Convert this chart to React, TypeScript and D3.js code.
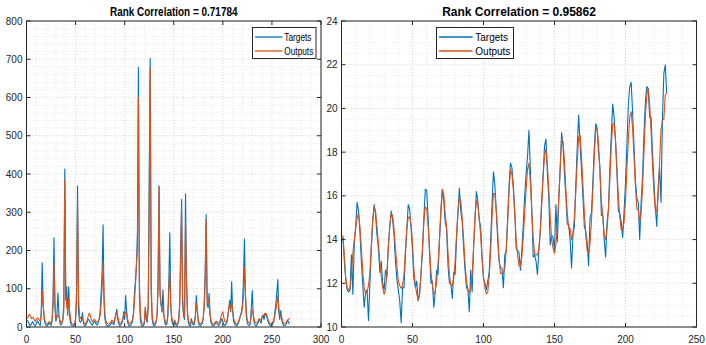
import React from "react";
import * as d3 from "d3";

const leftTargets = [
  18, 12, 6, 4, 8, 14, 10, 5, 3, 9,
  16, 12, 7, 4, 40, 168, 60, 20, 8, 4,
  3, 6, 12, 8, 4, 15, 70, 233, 50, 15,
  30, 89, 35, 10, 5, 8, 20, 60, 413, 70,
  105, 30, 106, 25, 8, 4, 3, 2, 6, 20,
  90, 369, 40, 15, 12, 18, 37, 10, 4, 3,
  8, 14, 20, 18, 12, 8, 5, 10, 15, 12,
  8, 5, 10, 20, 40, 90, 140, 267, 60, 20,
  8, 4, 2, 3, 5, 8, 12, 10, 6, 20,
  30, 46, 20, 8, 3, 5, 10, 15, 40, 20,
  82, 40, 12, 5, 3, 4, 8, 15, 40, 90,
  120, 160, 250, 679, 80, 20, 5, 2, 3, 8,
  48, 20, 12, 60, 400, 702, 90, 20, 6, 3,
  5, 12, 30, 120, 369, 85, 60, 40, 97, 30,
  10, 5, 8, 30, 120, 246, 50, 15, 8, 5,
  18, 6, 3, 6, 15, 60, 200, 334, 60, 30,
  20, 348, 120, 30, 10, 4, 3, 22, 10, 5,
  8, 30, 82, 40, 12, 5, 3, 6, 10, 20,
  60, 140, 294, 60, 50, 88, 30, 10, 5, 3,
  4, 8, 12, 10, 6, 4, 8, 15, 22, 15,
  8, 4, 6, 10, 25, 50, 70, 40, 118, 40,
  15, 8, 5, 3, 6, 10, 20, 30, 40, 60,
  120, 230, 80, 25, 10, 5, 4, 8, 50, 95,
  30, 10, 5, 3, 6, 12, 20, 15, 10, 25,
  30, 20, 36, 30, 25, 15, 8, 4, 3, 6,
  10, 15, 40, 60, 90, 124, 40, 20, 43, 20,
  8, 4, 3, 5, 10, 18, 12, 8,
];

const leftOutputs = [
  22, 30, 33, 28, 22, 25, 24, 18, 15, 20,
  24, 22, 18, 15, 30, 96, 55, 28, 15, 10,
  8, 10, 14, 12, 10, 18, 50, 166, 60, 22,
  25, 30, 28, 18, 12, 12, 18, 40, 385, 90,
  53, 40, 75, 40, 18, 10, 8, 6, 10, 22,
  60, 332, 80, 30, 22, 25, 20, 15, 10, 8,
  12, 20, 30, 36, 30, 20, 14, 16, 20, 18,
  14, 12, 15, 20, 30, 60, 100, 168, 80, 30,
  15, 10, 8, 8, 10, 14, 18, 15, 12, 22,
  36, 40, 28, 15, 10, 10, 14, 20, 35, 30,
  40, 38, 20, 12, 8, 10, 14, 20, 35, 70,
  110, 166, 200, 600, 120, 40, 15, 8, 8, 12,
  53, 30, 20, 50, 300, 678, 120, 35, 12, 8,
  10, 15, 30, 100, 366, 100, 60, 45, 40, 30,
  18, 10, 12, 30, 90, 145, 60, 25, 15, 12,
  14, 10, 8, 10, 18, 50, 160, 314, 80, 35,
  25, 276, 120, 40, 18, 10, 8, 15, 14, 10,
  12, 25, 62, 45, 20, 10, 8, 10, 15, 22,
  50, 120, 281, 80, 60, 75, 35, 18, 10, 8,
  8, 12, 15, 14, 12, 10, 14, 25, 35, 40,
  25, 15, 12, 15, 28, 45, 62, 45, 66, 45,
  22, 14, 10, 8, 10, 15, 22, 30, 35, 50,
  80, 156, 90, 35, 18, 12, 10, 12, 30, 44,
  35, 18, 12, 10, 12, 16, 22, 20, 18, 28,
  32, 30, 36, 35, 30, 20, 14, 10, 8, 10,
  14, 18, 30, 45, 60, 82, 50, 30, 35, 25,
  15, 10, 8, 10, 14, 18, 20, 23,
];

const rightTargets = [
  14.1, 13.0, 12.2, 11.7, 11.6, 11.7, 13.3, 11.5, 13.8, 14.6, 15.7, 15.3,
  14.3, 13.0, 11.9, 10.9, 11.6, 11.7, 10.3, 12.0, 13.6, 14.9, 15.6, 15.1,
  14.2, 13.6, 12.5, 13.0, 12.0, 11.7, 12.6, 12.3, 13.8, 14.6, 15.3, 14.9,
  14.2, 13.0, 12.2, 11.7, 11.2, 10.2, 11.8, 11.8, 13.3, 14.5, 15.6, 15.4,
  14.5, 13.5, 12.2, 11.8, 12.1, 11.2, 11.5, 12.5, 13.4, 15.0, 16.3, 16.25,
  15.0, 13.4, 12.0, 12.1, 10.9, 11.6, 12.6, 12.4, 14.0, 15.2, 16.3, 15.8,
  14.8, 14.5, 12.8, 12.0, 12.0, 11.3, 12.5, 12.4, 14.0, 15.2, 16.35, 15.3,
  14.8, 13.6, 12.6, 11.8, 11.7, 10.7, 12.6, 11.6, 13.6, 15.0, 16.2, 15.8,
  14.9, 14.6, 13.2, 12.2, 12.0, 11.7, 12.1, 12.5, 13.9, 15.6, 17.1, 16.5,
  15.3, 14.0, 13.0, 12.7, 12.7, 11.8, 13.3, 13.5, 15.0, 16.5, 17.5, 17.3,
  16.5, 15.3, 13.6, 13.5, 13.4, 12.6, 13.5, 14.7, 16.0, 17.0, 17.8, 19.0,
  17.2, 15.4, 13.2, 13.3, 13.0, 12.4, 13.5, 14.4, 15.8, 17.0, 18.3, 18.6,
  17.0, 15.9, 13.75, 14.2, 14.1, 13.5, 15.6, 13.9, 15.8, 17.2, 18.9, 18.3,
  17.0, 16.0, 14.7, 14.7, 14.0, 12.7, 14.2, 14.6, 16.5, 18.2, 19.7, 18.4,
  17.2, 16.0, 14.6, 14.4, 13.9, 12.8, 15.0, 15.2, 16.6, 18.2, 19.3, 19.1,
  18.0, 17.3, 15.1, 15.1, 14.0, 13.2, 14.8, 15.4, 17.3, 18.8, 20.2, 19.6,
  18.5, 17.0, 15.3, 15.2, 14.8, 14.1, 15.3, 16.6, 18.3, 20.2, 21.0, 21.2,
  19.8, 18.3, 16.7, 15.9, 15.7, 14.0, 15.7, 16.9, 18.8, 20.3, 21.0, 20.9,
  19.6, 19.6, 18.0, 16.7, 15.5, 14.6, 16.4, 17.3, 15.7, 19.5, 21.6, 22.0,
  20.7,
];

const rightOutputs = [
  14.2, 13.3, 12.2, 11.8, 11.7, 11.75, 12.4, 13.4, 14.0, 14.5, 15.0, 15.2,
  14.6, 13.6, 12.5, 11.8, 11.5, 11.6, 11.9, 12.5, 13.7, 14.9, 15.5, 15.3,
  14.6, 13.8, 13.0, 12.3, 11.8, 11.5, 11.7, 12.5, 13.6, 14.6, 15.2, 15.1,
  14.5, 13.6, 12.8, 12.1, 11.9, 11.77, 11.9, 12.4, 13.5, 14.5, 15.0, 15.05,
  14.7, 13.8, 12.6, 11.9, 11.5, 11.23, 11.5, 12.4, 13.6, 14.8, 15.5, 15.4,
  14.6, 13.6, 12.5, 11.9, 11.5, 11.6, 12.1, 12.9, 14.0, 15.4, 16.3, 16.1,
  15.2, 14.6, 13.4, 12.4, 11.92, 11.9, 12.2, 13.0, 14.2, 15.3, 15.9, 15.8,
  15.0, 14.0, 12.9, 12.1, 11.7, 11.55, 11.8, 12.4, 13.6, 15.0, 15.8, 15.6,
  14.9, 14.2, 13.1, 12.3, 11.8, 11.5, 11.6, 12.3, 13.4, 15.0, 16.1, 16.1,
  15.3, 14.3, 13.1, 12.45, 12.45, 12.45, 12.7, 13.5, 14.8, 16.2, 17.2, 17.0,
  16.3, 15.2, 14.0, 13.3, 12.8, 12.76, 13.2, 14.1, 15.2, 16.3, 17.2, 17.5,
  16.6, 15.3, 14.1, 13.37, 13.3, 13.3, 13.6, 14.4, 15.6, 16.9, 17.8, 18.17,
  17.4, 16.3, 15.0, 14.0, 13.6, 13.37, 13.8, 14.6, 15.9, 17.3, 18.6, 18.5,
  17.6, 16.3, 15.2, 14.5, 14.5, 14.0, 14.3, 15.0, 16.2, 17.6, 18.7, 18.78,
  17.8, 16.5, 15.3, 14.2, 13.5, 13.37, 13.8, 14.8, 16.2, 17.8, 19.0, 19.1,
  18.4, 17.1, 15.8, 15.1, 14.2, 14.0, 14.5, 15.4, 16.8, 18.3, 19.3, 19.3,
  18.5, 17.2, 15.9, 15.0, 14.44, 14.44, 14.8, 15.8, 17.2, 18.6, 19.6, 19.85,
  19.1, 17.8, 16.4, 15.4, 15.35, 14.82, 15.2, 16.4, 18.0, 19.6, 20.6, 20.92,
  20.2, 19.0, 17.4, 16.2, 15.35, 15.3, 16.0, 17.5, 19.0, 19.47, 19.5, 20.6,
  20.7,
];

const leftTitle = "Rank Correlation = 0.71784";
const rightTitle = "Rank Correlation = 0.95862";
const legendLabels = ["Targets", "Outputs"];
const leftXTicks = [0, 50, 100, 150, 200, 250, 300];
const leftYTicks = [0, 100, 200, 300, 400, 500, 600, 700, 800];
const rightXTicks = [0, 50, 100, 150, 200, 250];
const rightYTicks = [10, 12, 14, 16, 18, 20, 22, 24];

const BLUE = "#0072BD";
const ORANGE = "#D95319";
const AX = "#262626";
const FONT = "'Liberation Sans', Arial, Helvetica, sans-serif";

type PanelProps = {
  x0: number; x1: number; y0: number; y1: number;
  xDomain: [number, number]; yDomain: [number, number];
  xTicks: number[]; yTicks: number[];
  xMinorStep: number; yMinorStep: number;
  targets: number[]; outputs: number[];
  title: string; squeeze: number;
  legend: { x: number; y: number; w: number; h: number; lineX0: number; lineX1: number; textX: number };
};

function range(a: number, b: number, s: number) {
  const out: number[] = [];
  const n = Math.round((b - a) / s);
  for (let i = 0; i <= n; i++) out.push(a + i * s);
  return out;
}

function Panel(p: PanelProps) {
  const xs = d3.scaleLinear().domain(p.xDomain).range([p.x0, p.x1]);
  const ys = d3.scaleLinear().domain(p.yDomain).range([p.y1, p.y0]);
  const line = d3
    .line<number>()
    .x((_, i) => xs(i + 1))
    .y((d) => ys(d));
  const xMinor = range(p.xDomain[0], p.xDomain[1], p.xMinorStep);
  const yMinor = range(p.yDomain[0], p.yDomain[1], p.yMinorStep);
  const tl = 4;
  const cx = (p.x0 + p.x1) / 2;
  const lg = p.legend;
  return (
    <g>
      <rect x={p.x0} y={p.y0} width={p.x1 - p.x0} height={p.y1 - p.y0} fill="#fff" />
      {xMinor.map((v, i) => (
        <line key={"xm" + i} x1={xs(v)} x2={xs(v)} y1={p.y0} y2={p.y1}
          stroke={p.xTicks.includes(v) ? "#c8c8c8" : "#dedede"} strokeWidth={0.8} strokeDasharray="1,2" />
      ))}
      {yMinor.map((v, i) => (
        <line key={"ym" + i} x1={p.x0} x2={p.x1} y1={ys(v)} y2={ys(v)}
          stroke={p.yTicks.includes(v) ? "#c8c8c8" : "#dedede"} strokeWidth={0.8} strokeDasharray="1,2" />
      ))}
      <path d={line(p.targets) || ""} fill="none" stroke={BLUE} strokeWidth={1.1} strokeLinejoin="round" />
      <path d={line(p.outputs) || ""} fill="none" stroke={ORANGE} strokeWidth={1.1} strokeLinejoin="round" />
      <rect x={p.x0} y={p.y0} width={p.x1 - p.x0} height={p.y1 - p.y0} fill="none" stroke={AX} strokeWidth={1} />
      {p.xTicks.map((v, i) => (
        <g key={"xt" + i}>
          <line x1={xs(v)} x2={xs(v)} y1={p.y1} y2={p.y1 - tl} stroke={AX} />
          <line x1={xs(v)} x2={xs(v)} y1={p.y0} y2={p.y0 + tl} stroke={AX} />
          <text x={xs(v)} y={p.y1 + 16} textAnchor="middle" fontSize={10} fill={AX} fontFamily={FONT}>{v}</text>
        </g>
      ))}
      {p.yTicks.map((v, i) => (
        <g key={"yt" + i}>
          <line x1={p.x0} x2={p.x0 + tl} y1={ys(v)} y2={ys(v)} stroke={AX} />
          <line x1={p.x1} x2={p.x1 - tl} y1={ys(v)} y2={ys(v)} stroke={AX} />
          <text x={p.x0 - 4} y={ys(v) + 3.6} textAnchor="end" fontSize={10} fill={AX} fontFamily={FONT}>{v}</text>
        </g>
      ))}
      <g transform={`translate(${cx},16) scale(${p.squeeze},1)`}>
        <text x={0} y={0} textAnchor="middle" fontSize={12} fontWeight="bold" fill="#000" fontFamily={FONT}>{p.title}</text>
      </g>
      <rect x={lg.x} y={lg.y} width={lg.w} height={lg.h} fill="#fff" stroke={AX} strokeWidth={1} />
      {legendLabels.map((lab, i) => {
        const yy = lg.y + 9.5 + i * 14;
        return (
          <g key={lab}>
            <line x1={lg.lineX0} x2={lg.lineX1} y1={yy} y2={yy} stroke={i === 0 ? BLUE : ORANGE} strokeWidth={1.3} />
            <g transform={`translate(${lg.textX},${yy + 3.5}) scale(${p.squeeze},1)`}>
              <text x={0} y={0} fontSize={10} fill="#000" fontFamily={FONT}>{lab}</text>
            </g>
          </g>
        );
      })}
    </g>
  );
}

export default function App() {
  return (
    <svg width={706} height={345} style={{ position: "absolute", left: 0, top: 0, background: "#fff" }}>
      <rect x={0} y={0} width={706} height={345} fill="#fff" />
      <Panel
        x0={26.5} x1={321} y0={21} y1={327}
        xDomain={[0, 300]} yDomain={[0, 800]}
        xTicks={leftXTicks} yTicks={leftYTicks}
        xMinorStep={10} yMinorStep={20}
        targets={leftTargets} outputs={leftOutputs}
        title={leftTitle} squeeze={0.83}
        legend={{ x: 252.5, y: 27.5, w: 63.5, h: 31, lineX0: 255, lineX1: 282.5, textX: 284.3 }}
      />
      <Panel
        x0={341.5} x1={696.5} y0={21} y1={327}
        xDomain={[0, 250]} yDomain={[10, 24]}
        xTicks={rightXTicks} yTicks={rightYTicks}
        xMinorStep={10} yMinorStep={0.5}
        targets={rightTargets} outputs={rightOutputs}
        title={rightTitle} squeeze={1}
        legend={{ x: 436.5, y: 27.5, w: 77, h: 31, lineX0: 439, lineX1: 472.5, textX: 475.3 }}
      />
    </svg>
  );
}
